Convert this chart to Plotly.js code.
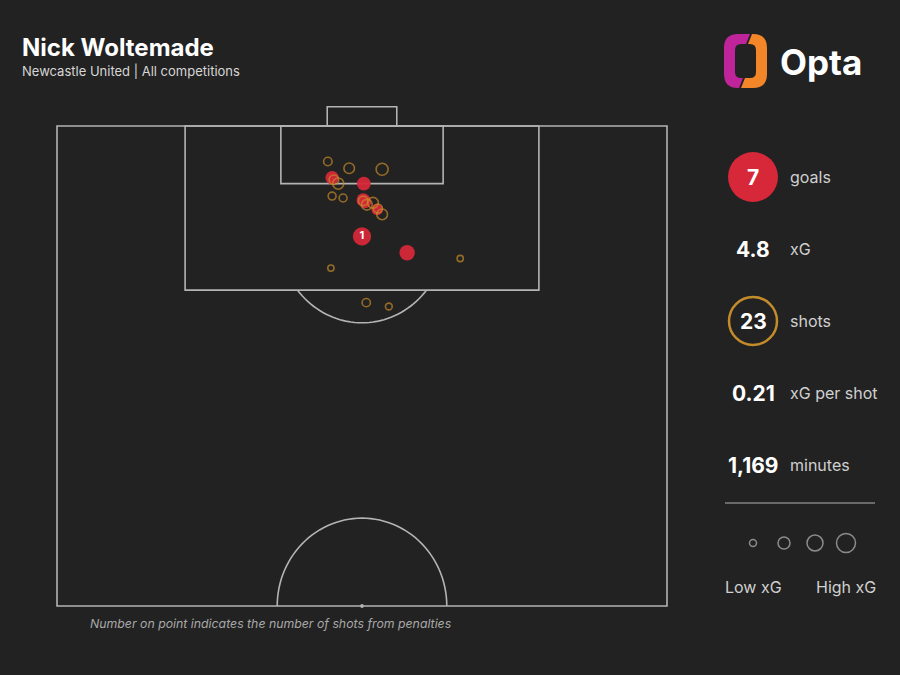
<!DOCTYPE html>
<html>
<head>
<meta charset="utf-8">
<script src="https://cdn.plot.ly/plotly-3.0.1.min.js"></script>
<style>html,body{margin:0;padding:0;background:#222222;}#chart{width:900px;height:675px;}</style>
</head>
<body>
<div id="chart"></div>
<script>
// ---- Data (Opta coordinates: x = across pitch 0-100, y = along pitch, goal at 100) ----
const goalX = [45.1, 50.3, 50.2, 50.5, 52.5, 50.0, 57.4];
const goalY = [94.6, 94.0, 92.3, 92.1, 91.3, 88.5, 86.8];
const goalXG = [0.35, 0.38, 0.35, 0.30, 0.22, 0.79, 0.50];
const goalPenalties = [0, 0, 0, 0, 0, 1, 0];

const missX = [44.4, 47.9, 53.3, 46.1, 45.1, 46.9, 50.8, 51.8, 53.3, 66.1, 44.9, 50.7, 54.4, 50.2, 52.6, 45.4];
const missY = [96.3, 95.6, 95.5, 94.0, 92.7, 92.5, 91.8, 92.0, 90.8, 86.2, 85.2, 81.6, 81.2, 92.2, 91.4, 94.4];
const missXG = [0.08, 0.17, 0.25, 0.20, 0.06, 0.06, 0.18, 0.18, 0.18, 0.02, 0.02, 0.07, 0.03, 0.12, 0.10, 0.12];

const statValues = ['7', '4.8', '23', '0.21', '1,169'];
const statLabels = ['goals', 'xG', 'shots', 'xG per shot', 'minutes'];
const legendXG = [0.035, 0.25, 0.56, 0.88];
const legendLabels = ['Low xG', 'High xG'];

const titleText = 'Nick Woltemade';
const subtitleText = 'Newcastle United | All competitions';
const footnoteText = 'Number on point indicates the number of shots from penalties';

// ---- Styling ----
const BG = '#222222';
const RED = '#d62839';
const GOLD = '#c48b2b';
const LINE = '#b4b4b4';
const FONT = 'Inter, Roboto, sans-serif';
const sizeOf = xg => 4 + 16 * Math.sqrt(xg);

// ---- Pitch geometry helpers ----
function arcPath(cx, cy, rx, ry, a0, a1, n) {
  let d = '';
  for (let i = 0; i <= n; i++) {
    const a = a0 + (a1 - a0) * i / n;
    const x = cx + rx * Math.cos(a), y = cy + ry * Math.sin(a);
    d += (i === 0 ? 'M ' : ' L ') + x.toFixed(3) + ' ' + y.toFixed(3);
  }
  return d;
}
const lineStyle = {color: LINE, width: 1.6};
const shapes = [];
function rect(x0, y0, x1, y1) {
  shapes.push({type: 'rect', xref: 'x', yref: 'y', x0, y0, x1, y1, line: lineStyle, fillcolor: 'rgba(0,0,0,0)', layer: 'below'});
}
rect(0, 50, 100, 100);          // half pitch
rect(21.0, 82.9, 79.0, 100);    // penalty box
rect(36.7, 94.0, 63.3, 100);    // six-yard box
rect(44.3, 100, 55.7, 102.0);   // goal
// D arc (outside the penalty box)
const dRy = 9.0, dRx = 13.5, spot = 88.5;
const dAng = Math.asin((spot - 82.9) / dRy);
shapes.push({type: 'path', xref: 'x', yref: 'y', layer: 'below', line: lineStyle,
  path: arcPath(50, spot, dRx, -dRy, dAng, Math.PI - dAng, 40)});
// centre circle (upper half)
shapes.push({type: 'path', xref: 'x', yref: 'y', layer: 'below', line: lineStyle,
  path: arcPath(50, 50, 13.9, 9.15, 0, Math.PI, 60)});
// centre spot
shapes.push({type: 'circle', xref: 'x', yref: 'y', x0: 49.7, x1: 50.3, y0: 49.8, y1: 50.2, fillcolor: LINE, line: {width: 0}, layer: 'below'});

// ---- Right panel (pixel axis x2/y2) ----
const rowY = statValues.map((_, i) => 177 + i * 72);
const valueX = 753, labelX = 788;
// goals circle
shapes.push({type: 'circle', xref: 'x2', yref: 'y2', x0: valueX - 25, x1: valueX + 25, y0: rowY[0] - 25, y1: rowY[0] + 25, fillcolor: RED, line: {width: 0}});
// shots ring
shapes.push({type: 'circle', xref: 'x2', yref: 'y2', x0: valueX - 24, x1: valueX + 24, y0: rowY[2] - 24, y1: rowY[2] + 24, fillcolor: 'rgba(0,0,0,0)', line: {color: GOLD, width: 2.5}});
// divider
shapes.push({type: 'line', xref: 'x2', yref: 'y2', x0: 725, x1: 875, y0: 503, y1: 503, line: {color: '#6a6a6a', width: 2}});
// Opta logo icon
shapes.push({type: 'path', xref: 'x2', yref: 'y2', fillcolor: '#c0249a', line: {width: 0},
  path: 'M 750 34 L 738 34 Q 724 34 724 48 L 724 74 Q 724 88 738 88 L 739 88 L 743 78 L 741 78 Q 735 78 735 72 L 735 50 Q 735 44 741 44 L 746 44 Z'});
shapes.push({type: 'path', xref: 'x2', yref: 'y2', fillcolor: '#f4862a', line: {width: 0},
  path: 'M 741 88 L 753 88 Q 767 88 767 74 L 767 48 Q 767 34 753 34 L 752 34 L 748 44 L 750 44 Q 756 44 756 50 L 756 72 Q 756 78 750 78 L 745 78 Z'});

const annotations = [];
function ann(x, y, text, size, color, anchor, extra) {
  annotations.push(Object.assign({xref: 'x2', yref: 'y2', x, y, text, showarrow: false, xanchor: anchor, yanchor: 'middle',
    font: {family: FONT, size, color}}, extra || {}));
}
ann(20, 47, '<b>' + titleText + '</b>', 24, '#ffffff', 'left');
ann(20, 71, subtitleText, 13, '#d6d6d6', 'left');
ann(778, 62, '<b>Opta</b>', 35, '#ffffff', 'left');
statValues.forEach((v, i) => {
  ann(valueX, rowY[i], '<b>' + v + '</b>', 21, '#ffffff', 'center');
  ann(labelX, rowY[i], statLabels[i], 16, '#d0d0d0', 'left');
});
const legendPX = legendXG.map((_, i) => 753 + i * 31);
ann(legendPX[0], 587, legendLabels[0], 16, '#d0d0d0', 'center');
ann(legendPX[legendPX.length - 1], 587, legendLabels[1], 16, '#d0d0d0', 'center');
ann(88, 623, '<i>' + footnoteText + '</i>', 12.3, '#a8a8a8', 'left');

// ---- Traces ----
const traces = [
  {type: 'scatter', mode: 'markers+text', x: goalX, y: goalY, xaxis: 'x', yaxis: 'y',
   text: goalPenalties.map(n => n > 0 ? '<b>' + n + '</b>' : ''), textposition: 'middle center',
   textfont: {family: FONT, size: 11, color: '#ffffff'},
   marker: {size: goalXG.map(sizeOf), color: RED, opacity: 0.95, line: {width: 0}}, hoverinfo: 'skip', cliponaxis: false},
  {type: 'scatter', mode: 'markers', x: missX, y: missY, xaxis: 'x', yaxis: 'y',
   marker: {size: missXG.map(sizeOf), color: 'rgba(0,0,0,0)', line: {color: GOLD, width: 1.6}}, hoverinfo: 'skip', cliponaxis: false},
  {type: 'scatter', mode: 'markers', x: legendPX, y: legendXG.map(() => 543), xaxis: 'x2', yaxis: 'y2',
   marker: {size: legendXG.map(sizeOf), color: 'rgba(0,0,0,0)', line: {color: '#b8b8b8', width: 1.5}}, hoverinfo: 'skip', cliponaxis: false}
];

const layout = {
  width: 900, height: 675,
  margin: {l: 0, r: 0, t: 0, b: 0, pad: 0},
  paper_bgcolor: BG, plot_bgcolor: 'rgba(0,0,0,0)',
  showlegend: false,
  xaxis: {range: [-1, 101], domain: [50.9 / 900, 673.1 / 900], visible: false, fixedrange: true, anchor: 'y'},
  yaxis: {range: [49, 102.5], domain: [(675 - 615.6) / 675, (675 - 102) / 675], visible: false, fixedrange: true, anchor: 'x'},
  xaxis2: {range: [0, 900], domain: [0, 1], visible: false, fixedrange: true, anchor: 'y2'},
  yaxis2: {range: [675, 0], domain: [0, 1], visible: false, fixedrange: true, anchor: 'x2'},
  shapes, annotations
};

Plotly.newPlot('chart', traces, layout, {displayModeBar: false, staticPlot: true});
</script>
</body>
</html>
